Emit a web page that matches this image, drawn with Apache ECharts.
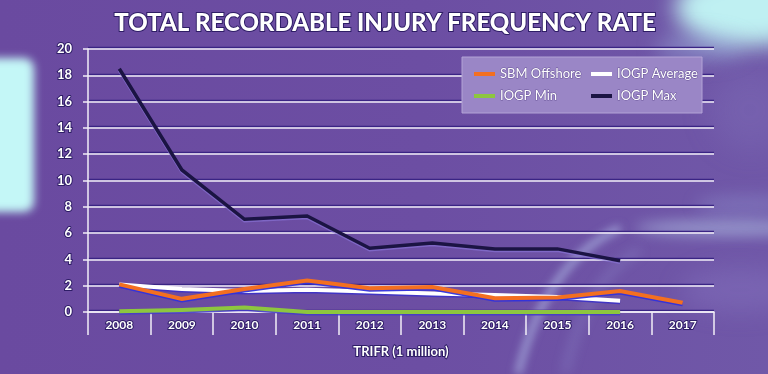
<!DOCTYPE html>
<html>
<head>
<meta charset="utf-8">
<script src="https://cdn.jsdelivr.net/npm/echarts@6/dist/echarts.min.js"></script>
<style>
html,body{margin:0;padding:0;background:#68489e;}
#c{width:768px;height:374px;}
</style>
</head>
<body>
<div id="c"></div>
<script>
var years = ['2008','2009','2010','2011','2012','2013','2014','2015','2016','2017'];
var sbmOffshore = [2.1, 1.0, 1.75, 2.4, 1.8, 1.9, 1.05, 1.1, 1.6, 0.7];
var iogpAverage = [2.1, 1.75, 1.6, 1.7, 1.55, 1.4, 1.3, 1.15, 0.85, null];
var iogpMin = [0.05, 0.15, 0.35, 0.0, 0.0, 0.0, 0.0, 0.0, 0.0, null];
var iogpMax = [18.5, 10.8, 7.05, 7.3, 4.85, 5.25, 4.8, 4.8, 3.9, null];
var yTicks = [0, 2, 4, 6, 8, 10, 12, 14, 16, 18, 20];

var chart = echarts.init(document.getElementById('c'));
var FONT = 'Lato';
var outline = '#2e1d66';
var OFF = 2000;

function lineSeries(name, data, color, width, shadow) {
  return {
    name: name, type: 'line', data: data, symbol: 'none', clip: false,
    lineStyle: {color: color, width: width, shadowColor: shadow, shadowOffsetY: 1.5, shadowBlur: 0, join: 'miter'},
    itemStyle: {color: color},
    emphasis: {disabled: true}
  };
}

// soft glow: shape drawn off-canvas, only its blurred shadow lands on the canvas
function glow(type, shape, color, blur) {
  var s = JSON.parse(JSON.stringify(shape));
  if (type === 'rect') { s.x -= OFF; } else { s.cx -= OFF; }
  return {type: type, z: -10, silent: true, shape: s,
    style: {fill: color, shadowBlur: blur, shadowColor: color, shadowOffsetX: OFF}};
}

chart.setOption({
  animation: false,
  backgroundColor: {
    type: 'linear', x: 0, y: 0, x2: 1, y2: 0,
    colorStops: [{offset: 0, color: '#6a4aa0'}, {offset: 0.55, color: '#6c4ea3'}, {offset: 1, color: '#7058a8'}]
  },
  graphic: [
    glow('rect', {x: -20, y: 58, width: 54, height: 154, r: 10}, '#c4f7f7', 9),
    glow('ellipse', {cx: 750, cy: 8, rx: 75, ry: 38}, '#bff0f2', 22),
    glow('ellipse', {cx: 700, cy: 48, rx: 45, ry: 14}, 'rgba(170,205,235,0.6)', 20),
    glow('ellipse', {cx: 750, cy: 110, rx: 40, ry: 40}, 'rgba(140,130,200,0.45)', 30),
    glow('ellipse', {cx: 725, cy: 228, rx: 90, ry: 8}, 'rgba(190,215,240,0.7)', 14),
    glow('ellipse', {cx: 745, cy: 205, rx: 50, ry: 10}, 'rgba(165,185,230,0.5)', 16),
    glow('ellipse', {cx: 740, cy: 290, rx: 60, ry: 22}, 'rgba(150,140,210,0.5)', 25),
    {type: 'bezierCurve', z: -10, silent: true,
     shape: {x1: 620 - OFF, y1: 228, cpx1: 545 - OFF, cpy1: 262, x2: 518 - OFF, y2: 374},
     style: {stroke: 'rgba(190,210,245,0.75)', lineWidth: 7, fill: null, shadowBlur: 9,
       shadowColor: 'rgba(190,210,245,0.75)', shadowOffsetX: OFF}},
    {type: 'bezierCurve', z: -10, silent: true,
     shape: {x1: 640 - OFF, y1: 250, cpx1: 585 - OFF, cpy1: 280, x2: 565 - OFF, y2: 374},
     style: {stroke: 'rgba(170,190,235,0.45)', lineWidth: 8, fill: null, shadowBlur: 12,
       shadowColor: 'rgba(170,190,235,0.45)', shadowOffsetX: OFF}}
  ],
  title: {
    text: 'TOTAL RECORDABLE INJURY FREQUENCY RATE',
    left: 380, top: 6, textAlign: 'center',
    textStyle: {color: '#ffffff', fontFamily: FONT, fontWeight: 900, fontSize: 24,
      textBorderColor: outline, textBorderWidth: 2}
  },
  legend: {
    data: ['SBM Offshore', 'IOGP Average', 'IOGP Min', 'IOGP Max'],
    left: 462, top: 57, width: 228,
    orient: 'horizontal',
    padding: [10, 2, 10, 12],
    itemGap: 8,
    itemWidth: 21, itemHeight: 4,
    icon: 'rect',
    backgroundColor: '#9a86c6',
    borderColor: '#b3a3d6', borderWidth: 1,
    textStyle: {color: '#ffffff', fontFamily: FONT, fontSize: 13, width: 83, height: 13, lineHeight: 13,
      textBorderColor: 'rgba(60,40,110,0.5)', textBorderWidth: 1},
    selectedMode: false
  },
  grid: {left: 88, right: 54, top: 49, bottom: 62},
  xAxis: {
    type: 'category', data: years, boundaryGap: true,
    name: 'TRIFR (1 million)', nameLocation: 'middle', nameGap: 33,
    nameTextStyle: {color: '#ffffff', fontFamily: FONT, fontWeight: 'bold', fontSize: 13,
      textBorderColor: outline, textBorderWidth: 2},
    axisLine: {show: true, lineStyle: {color: '#f2eef8', width: 1.5}},
    axisTick: {show: true, length: 23, lineStyle: {color: '#f2eef8', width: 1.5}},
    axisLabel: {color: '#ffffff', fontFamily: FONT, fontWeight: 'bold', fontSize: 12, margin: 7,
      textBorderColor: outline, textBorderWidth: 2},
    splitLine: {show: false}
  },
  yAxis: {
    type: 'value', min: 0, max: 20, interval: 2,
    axisLine: {show: true, onZero: false, lineStyle: {color: '#f2eef8', width: 1.5}},
    axisTick: {show: true, length: 5, lineStyle: {color: '#f2eef8', width: 1.5}},
    axisLabel: {color: '#ffffff', fontFamily: FONT, fontWeight: 'bold', fontSize: 13, margin: 16,
      textBorderColor: outline, textBorderWidth: 2,
      formatter: function (v) { return yTicks.indexOf(v) >= 0 ? String(v) : ''; }},
    splitLine: {show: true, lineStyle: {color: '#f2eef8', width: 1.5, shadowColor: '#3a2484', shadowOffsetY: -1.5, shadowBlur: 0}}
  },
  series: [
    lineSeries('IOGP Min', iogpMin, '#8dc63f', 4, 'rgba(70,60,200,0.9)'),
    lineSeries('IOGP Average', iogpAverage, '#ffffff', 4, 'rgba(60,50,200,0.9)'),
    lineSeries('IOGP Max', iogpMax, '#1b1443', 3.5, 'rgba(140,120,220,0.6)'),
    lineSeries('SBM Offshore', sbmOffshore, '#f36f21', 4, 'rgba(50,50,220,0.95)')
  ]
});
</script>
</body>
</html>
